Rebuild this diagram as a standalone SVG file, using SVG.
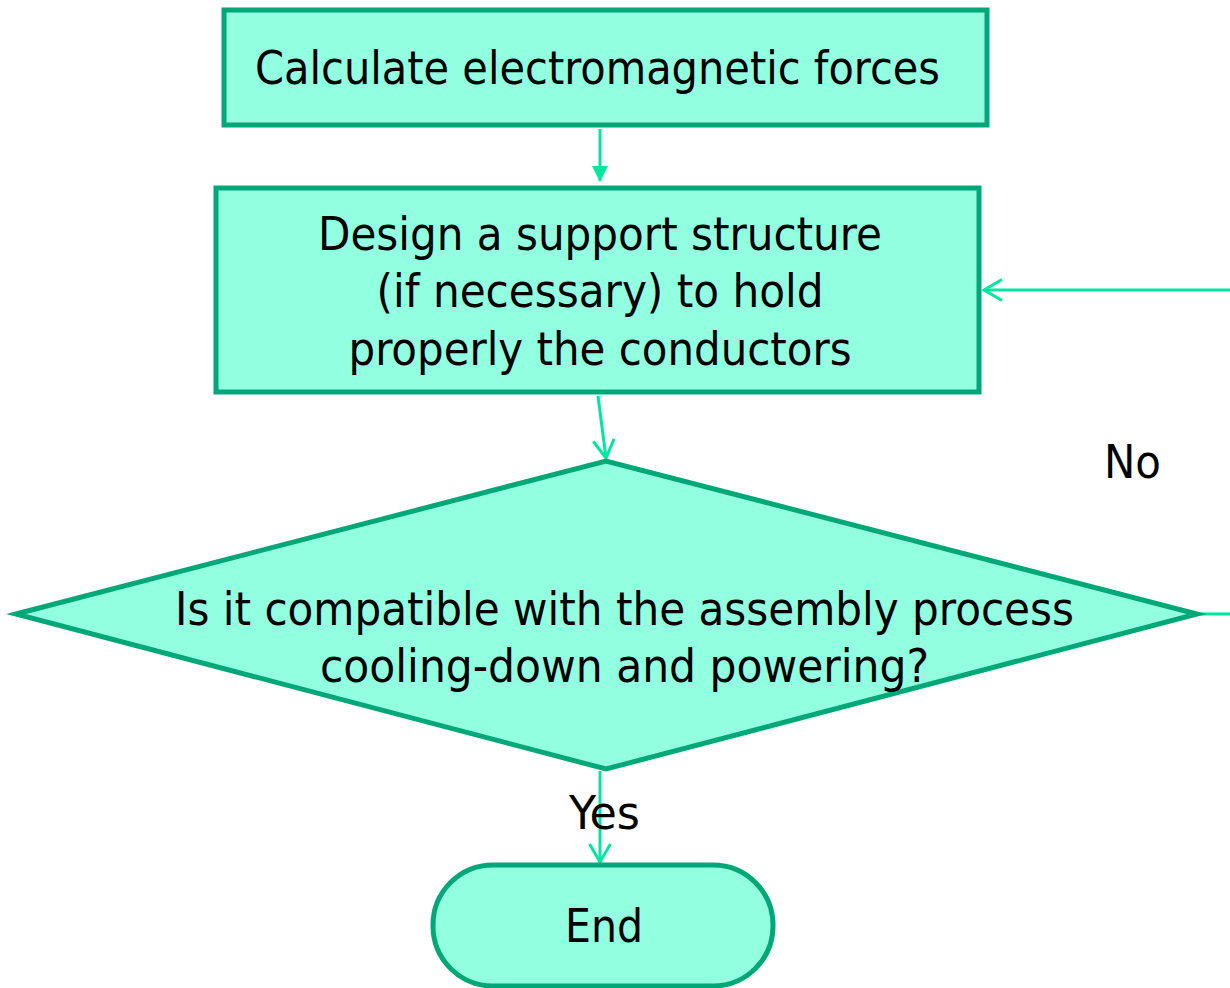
<svg xmlns="http://www.w3.org/2000/svg" width="1230" height="988" viewBox="0 0 1230 988">
<style>
.node{fill:#92FFE0;stroke:#00A878;stroke-width:5}
.t{font-family:"DejaVu Sans Condensed","DejaVu Sans",sans-serif;font-size:46px;fill:#000;text-anchor:middle}
.c{stroke:#00E5A0;stroke-width:3;fill:none}
</style>
<defs>
<marker id="open" markerUnits="userSpaceOnUse" viewBox="0 0 22 24" refX="20" refY="12" markerWidth="22" markerHeight="24" orient="auto">
<path d="M2,1.5 L20,12 L2,22.5" fill="none" stroke="#00E5A0" stroke-width="3"/>
</marker>
<marker id="solid" markerUnits="userSpaceOnUse" viewBox="0 0 16 16" refX="15" refY="8" markerWidth="16" markerHeight="16" orient="auto">
<path d="M0,0 L16,8 L0,16 Z" fill="#00E5A0"/>
</marker>
</defs>
<g id="connectors">
<line class="c" x1="600" y1="129" x2="600" y2="181" marker-end="url(#solid)"/>
<line class="c" x1="598" y1="396" x2="606" y2="458" marker-end="url(#open)"/>
<polyline class="c" points="1199,614 1232,614"/>
<line class="c" x1="1232" y1="290" x2="984" y2="290" marker-end="url(#open)"/>
<line class="c" x1="600" y1="771" x2="600" y2="862" marker-end="url(#open)"/>
</g>
<g id="calc">
<rect class="node" x="224" y="10" width="763" height="115"/>
<text class="t" x="597.5" y="84" textLength="685" lengthAdjust="spacingAndGlyphs">Calculate electromagnetic forces</text>
</g>
<g id="design">
<rect class="node" x="216" y="188" width="763" height="204"/>
<text class="t" x="600" y="250" textLength="564" lengthAdjust="spacingAndGlyphs">Design a support structure</text>
<text class="t" x="600" y="307" textLength="447" lengthAdjust="spacingAndGlyphs">(if necessary) to hold</text>
<text class="t" x="600" y="365" textLength="503" lengthAdjust="spacingAndGlyphs">properly the conductors</text>
</g>
<g id="decision">
<polygon class="node" points="16,614 606,461 1197,614 606,769"/>
<text class="t" x="624.5" y="625" textLength="899" lengthAdjust="spacingAndGlyphs">Is it compatible with the assembly process</text>
<text class="t" x="624.5" y="682" textLength="609" lengthAdjust="spacingAndGlyphs">cooling-down and powering?</text>
</g>
<g id="end">
<rect class="node" x="433" y="865" width="340" height="121" rx="60" ry="60"/>
<text class="t" x="604" y="942" textLength="78" lengthAdjust="spacingAndGlyphs">End</text>
</g>
<g id="labels">
<text class="t" x="1132.5" y="478" textLength="57" lengthAdjust="spacingAndGlyphs">No</text>
<text class="t" x="604.5" y="829" textLength="71" lengthAdjust="spacingAndGlyphs">Yes</text>
</g>
</svg>
